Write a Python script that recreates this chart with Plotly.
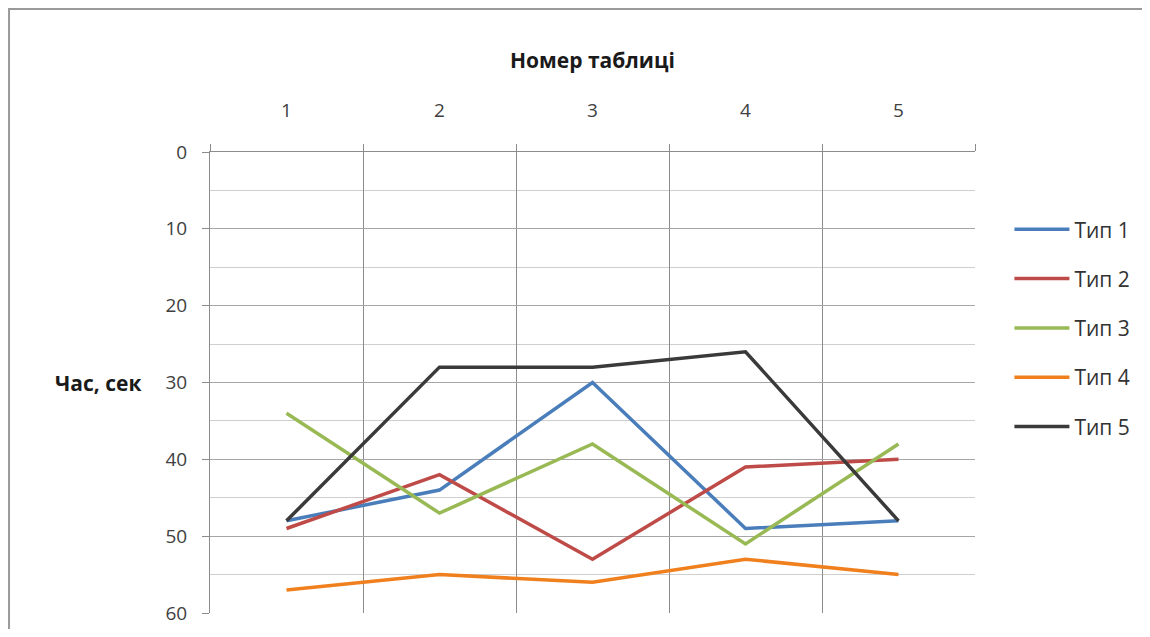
import plotly.graph_objects as go

categories = ["1", "2", "3", "4", "5"]
series_names = ["Тип 1", "Тип 2", "Тип 3", "Тип 4", "Тип 5"]
tip1 = [48, 44, 30, 49, 48]
tip2 = [49, 42, 53, 41, 40]
tip3 = [34, 47, 38, 51, 38]
tip4 = [57, 55, 56, 53, 55]
tip5 = [48, 28, 28, 26, 48]
series_values = [tip1, tip2, tip3, tip4, tip5]
colors = ["#4A7EBB", "#BE4B48", "#98B954", "#F0801E", "#3A3A3A"]
y_ticks = [0, 10, 20, 30, 40, 50, 60]

FONT = "'Open Sans', 'Noto Sans', sans-serif"

fig = go.Figure()
for name, vals, col in zip(series_names, series_values, colors):
    fig.add_trace(go.Scatter(
        x=categories, y=vals, name=name, mode="lines",
        line=dict(color=col, width=3.5), legendgroup=name,
    ))

fig.update_layout(
    width=1142, height=621,
    margin=dict(l=202, r=175, t=144, b=16, autoexpand=False),
    paper_bgcolor="white", plot_bgcolor="white",
    font=dict(family=FONT, color="#404040", size=19),
    showlegend=True,
    legend=dict(
        x=1.045, y=0.876, xanchor="left", yanchor="top",
        font=dict(size=21, color="#333333", family=FONT),
        tracegroupgap=19, itemwidth=55, bgcolor="rgba(0,0,0,0)",
    ),
    xaxis=dict(
        type="category", side="top", tickson="boundaries",
        showgrid=True, gridcolor="#8c8c8c", gridwidth=1,
        ticks="outside", ticklen=7, tickcolor="#8c8c8c",
        showline=True, linecolor="#8c8c8c", linewidth=1,
        ticklabelstandoff=26, tickfont=dict(size=19, color="#404040"),
        range=[-0.5, 4.5], mirror=False, zeroline=False,
    ),
    yaxis=dict(
        range=[60, 0], tickvals=y_ticks,
        showgrid=True, gridcolor="#a6a6a6", gridwidth=1,
        ticks="outside", ticklen=7, tickcolor="#8c8c8c",
        showline=True, linecolor="#8c8c8c", linewidth=1,
        ticklabelstandoff=11, tickfont=dict(size=19, color="#404040"),
        zeroline=False,
        minor=dict(dtick=5, showgrid=True, gridcolor="#cfcfcf", gridwidth=1),
    ),
)

fig.add_annotation(
    text="<b>Номер таблиці</b>", xref="paper", yref="paper",
    x=0.5, y=1.1996, showarrow=False, font=dict(size=21, color="#1a1a1a", family=FONT),
    xanchor="center", yanchor="middle",
)
fig.add_annotation(
    text="<b>Час, сек</b>", xref="paper", yref="paper",
    x=-0.0876, y=0.4989, showarrow=False, font=dict(size=21, color="#1a1a1a", family=FONT),
    xanchor="right", yanchor="middle",
)

# outer chart frame
fig.add_shape(
    type="rect", xref="paper", yref="paper",
    x0=-0.2627, x1=1.234, y0=-0.07, y1=1.3102,
    line=dict(color="#9a9a9a", width=2), layer="below",
)

fig.write_html("out.html")
